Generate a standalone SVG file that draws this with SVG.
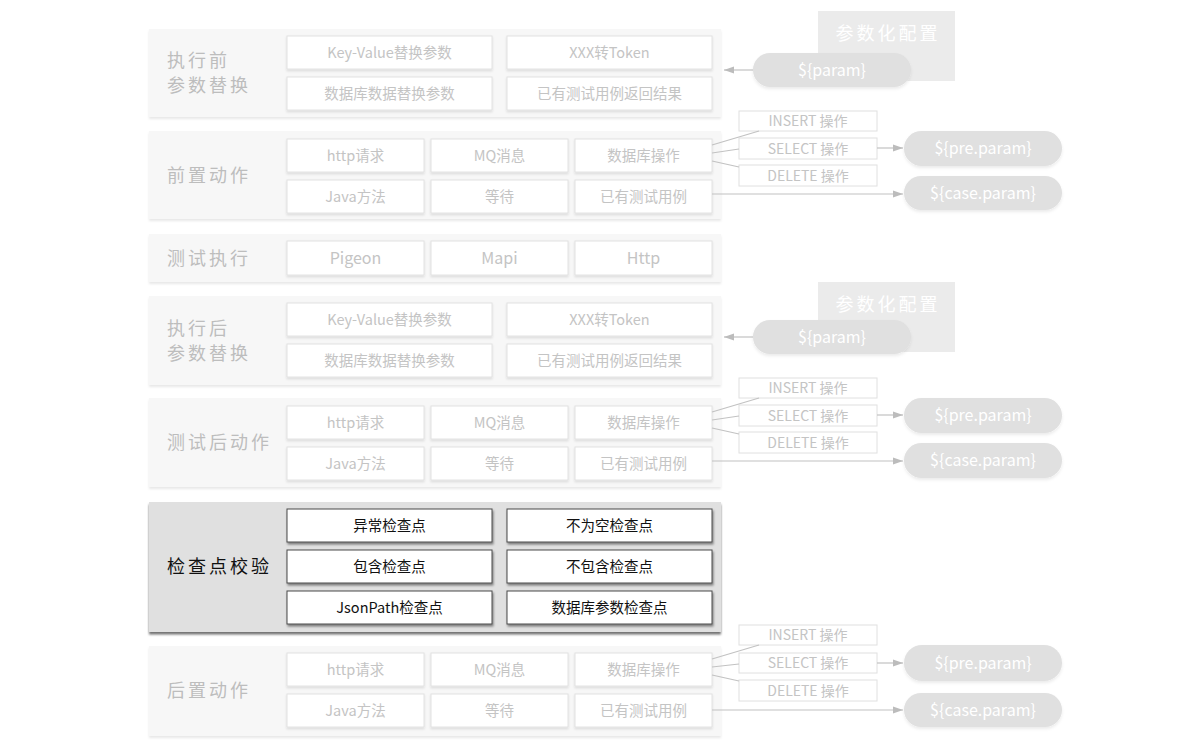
<svg xmlns="http://www.w3.org/2000/svg" width="1200" height="754" viewBox="0 0 1200 754">
<defs>
<filter id="shPanel" x="-5%" y="-10%" width="110%" height="130%"><feDropShadow dx="0" dy="2" stdDeviation="1" flood-color="#000" flood-opacity="0.09"/></filter>
<filter id="shBox" x="-5%" y="-10%" width="110%" height="140%"><feDropShadow dx="0" dy="1.5" stdDeviation="1" flood-color="#000" flood-opacity="0.12"/></filter>
<filter id="shDark" x="-5%" y="-10%" width="110%" height="130%"><feDropShadow dx="0" dy="2.5" stdDeviation="1" flood-color="#000" flood-opacity="0.55"/></filter>
<filter id="shDarkBox" x="-5%" y="-10%" width="110%" height="140%"><feDropShadow dx="1" dy="2" stdDeviation="0.8" flood-color="#000" flood-opacity="0.45"/></filter>
<filter id="shPill" x="-5%" y="-10%" width="110%" height="140%"><feDropShadow dx="0" dy="2" stdDeviation="1.5" flood-color="#000" flood-opacity="0.08"/></filter>
<marker id="arr" viewBox="0 0 10 10" refX="10" refY="5" markerWidth="10" markerHeight="10" markerUnits="userSpaceOnUse" orient="auto"><path d="M0,1.5 L10,5 L0,8.5 Z" fill="#bcbcbc"/></marker>
</defs>
<style>
text{font-family:"Noto Sans CJK SC","Liberation Sans",sans-serif;}
.panel{fill:#f7f7f7;filter:url(#shPanel);}
.box{fill:#fff;stroke:#e2e2e2;stroke-width:1;filter:url(#shBox);}
.bt{font-size:14.5px;fill:#c4c4c4;text-anchor:middle;}
.lbl{font-size:18px;fill:#bdbdbd;letter-spacing:3px;}
.dpanel{fill:#e0e0e0;filter:url(#shDark);}
.dbox{fill:#fff;stroke:#4a4a4a;stroke-width:1;filter:url(#shDarkBox);}
.dbt{font-size:14.5px;fill:#111;text-anchor:middle;}
.dlbl{font-size:18px;fill:#111;letter-spacing:3px;}
.op{fill:#fff;stroke:#e0e0e0;stroke-width:1;}
.opt{font-size:14px;fill:#c4c4c4;text-anchor:middle;}
.cfg{fill:#ebebeb;}
.cfgt{font-size:18px;fill:#fff;letter-spacing:3px;text-anchor:middle;}
.pill{fill:#e0e0e0;filter:url(#shPill);}
.pt{font-size:16px;fill:#fff;text-anchor:middle;}
.ln{stroke:#c2c2c2;stroke-width:1.2;fill:none;}
.ar{stroke:#c2c2c2;stroke-width:1.2;fill:none;marker-end:url(#arr);}
</style>
<rect width="1200" height="754" fill="#fff"/>

<!-- Row 1 -->
<g id="row-pre-replace">
<rect class="panel" x="149" y="29" width="572" height="88"/>
<text class="lbl" x="167" y="67">执行前</text>
<text class="lbl" x="167" y="92">参数替换</text>
</g>
<g id="r1-kv"><rect class="box" x="287" y="36" width="205" height="33"/><text class="bt" x="389.5" y="58">Key-Value替换参数</text></g>
<g id="r1-token"><rect class="box" x="507" y="36" width="205" height="33"/><text class="bt" x="609.5" y="58">XXX转Token</text></g>
<g id="r1-db"><rect class="box" x="287" y="77" width="205" height="33"/><text class="bt" x="389.5" y="99">数据库数据替换参数</text></g>
<g id="r1-case"><rect class="box" x="507" y="77" width="205" height="33"/><text class="bt" x="609.5" y="99">已有测试用例返回结果</text></g>

<!-- Row 2 -->
<g id="row-pre-action">
<rect class="panel" x="149" y="131" width="572" height="88"/>
<text class="lbl" x="167" y="182">前置动作</text>
</g>
<g id="r2-http"><rect class="box" x="287" y="139" width="137" height="33"/><text class="bt" x="355.5" y="161">http请求</text></g>
<g id="r2-mq"><rect class="box" x="431" y="139" width="137" height="33"/><text class="bt" x="499.5" y="161">MQ消息</text></g>
<g id="r2-db"><rect class="box" x="575" y="139" width="137" height="33"/><text class="bt" x="643.5" y="161">数据库操作</text></g>
<g id="r2-java"><rect class="box" x="287" y="180" width="137" height="33"/><text class="bt" x="355.5" y="202">Java方法</text></g>
<g id="r2-wait"><rect class="box" x="431" y="180" width="137" height="33"/><text class="bt" x="499.5" y="202">等待</text></g>
<g id="r2-case"><rect class="box" x="575" y="180" width="137" height="33"/><text class="bt" x="643.5" y="202">已有测试用例</text></g>

<!-- Row 3 -->
<g id="row-exec">
<rect class="panel" x="149" y="234" width="572" height="48"/>
<text class="lbl" x="167" y="265">测试执行</text>
</g>
<g id="r3-pigeon"><rect class="box" x="287" y="241" width="137" height="34"/><text class="bt" x="355.5" y="264" style="font-size:16px">Pigeon</text></g>
<g id="r3-mapi"><rect class="box" x="431" y="241" width="137" height="34"/><text class="bt" x="499.5" y="264" style="font-size:16px">Mapi</text></g>
<g id="r3-http"><rect class="box" x="575" y="241" width="137" height="34"/><text class="bt" x="643.5" y="264" style="font-size:16px">Http</text></g>

<!-- Row 4 -->
<g id="row-post-replace">
<rect class="panel" x="149" y="296" width="572" height="89"/>
<text class="lbl" x="167" y="335">执行后</text>
<text class="lbl" x="167" y="360">参数替换</text>
</g>
<g id="r4-kv"><rect class="box" x="287" y="303" width="205" height="33"/><text class="bt" x="389.5" y="325">Key-Value替换参数</text></g>
<g id="r4-token"><rect class="box" x="507" y="303" width="205" height="33"/><text class="bt" x="609.5" y="325">XXX转Token</text></g>
<g id="r4-db"><rect class="box" x="287" y="344" width="205" height="33"/><text class="bt" x="389.5" y="366">数据库数据替换参数</text></g>
<g id="r4-case"><rect class="box" x="507" y="344" width="205" height="33"/><text class="bt" x="609.5" y="366">已有测试用例返回结果</text></g>

<!-- Row 5 -->
<g id="row-post-test-action">
<rect class="panel" x="149" y="398" width="572" height="89"/>
<text class="lbl" x="167" y="449">测试后动作</text>
</g>
<g id="r5-http"><rect class="box" x="287" y="406" width="137" height="33"/><text class="bt" x="355.5" y="428">http请求</text></g>
<g id="r5-mq"><rect class="box" x="431" y="406" width="137" height="33"/><text class="bt" x="499.5" y="428">MQ消息</text></g>
<g id="r5-db"><rect class="box" x="575" y="406" width="137" height="33"/><text class="bt" x="643.5" y="428">数据库操作</text></g>
<g id="r5-java"><rect class="box" x="287" y="447" width="137" height="33"/><text class="bt" x="355.5" y="469">Java方法</text></g>
<g id="r5-wait"><rect class="box" x="431" y="447" width="137" height="33"/><text class="bt" x="499.5" y="469">等待</text></g>
<g id="r5-case"><rect class="box" x="575" y="447" width="137" height="33"/><text class="bt" x="643.5" y="469">已有测试用例</text></g>

<!-- Row 6 (highlight) -->
<g id="row-check">
<rect class="dpanel" x="149" y="502" width="572" height="130"/>
<text class="dlbl" x="167" y="573">检查点校验</text>
</g>
<g id="r6-exc"><rect class="dbox" x="287" y="509" width="205" height="33"/><text class="dbt" x="389.5" y="531">异常检查点</text></g>
<g id="r6-notnull"><rect class="dbox" x="507" y="509" width="205" height="33"/><text class="dbt" x="609.5" y="531">不为空检查点</text></g>
<g id="r6-contain"><rect class="dbox" x="287" y="550" width="205" height="33"/><text class="dbt" x="389.5" y="572">包含检查点</text></g>
<g id="r6-notcontain"><rect class="dbox" x="507" y="550" width="205" height="33"/><text class="dbt" x="609.5" y="572">不包含检查点</text></g>
<g id="r6-jsonpath"><rect class="dbox" x="287" y="591" width="205" height="33"/><text class="dbt" x="389.5" y="613">JsonPath检查点</text></g>
<g id="r6-dbparam"><rect class="dbox" x="507" y="591" width="205" height="33"/><text class="dbt" x="609.5" y="613">数据库参数检查点</text></g>

<!-- Row 7 -->
<g id="row-post-action">
<rect class="panel" x="149" y="646" width="572" height="90"/>
<text class="lbl" x="167" y="697">后置动作</text>
</g>
<g id="r7-http"><rect class="box" x="287" y="653" width="137" height="33"/><text class="bt" x="355.5" y="675">http请求</text></g>
<g id="r7-mq"><rect class="box" x="431" y="653" width="137" height="33"/><text class="bt" x="499.5" y="675">MQ消息</text></g>
<g id="r7-db"><rect class="box" x="575" y="653" width="137" height="33"/><text class="bt" x="643.5" y="675">数据库操作</text></g>
<g id="r7-java"><rect class="box" x="287" y="694" width="137" height="33"/><text class="bt" x="355.5" y="716">Java方法</text></g>
<g id="r7-wait"><rect class="box" x="431" y="694" width="137" height="33"/><text class="bt" x="499.5" y="716">等待</text></g>
<g id="r7-case"><rect class="box" x="575" y="694" width="137" height="33"/><text class="bt" x="643.5" y="716">已有测试用例</text></g>

<!-- Right side: config blocks -->
<g id="cfg1"><rect class="cfg" x="818" y="11" width="137" height="70"/><text class="cfgt" x="888" y="40">参数化配置</text></g>
<g id="param1"><rect class="pill" x="753" y="53" width="158" height="34" rx="17"/><text class="pt" x="832" y="76">${param}</text></g>
<g id="cfg2"><rect class="cfg" x="818" y="282" width="137" height="70"/><text class="cfgt" x="888" y="311">参数化配置</text></g>
<g id="param2"><rect class="pill" x="753" y="320" width="158" height="34" rx="17"/><text class="pt" x="832" y="343">${param}</text></g>

<!-- ops row 2 -->
<g id="r2-insert"><rect class="op" x="739" y="111" width="138" height="20"/><text class="opt" x="808" y="126">INSERT 操作</text></g>
<g id="r2-select"><rect class="op" x="739" y="138" width="138" height="21"/><text class="opt" x="808" y="153.5">SELECT 操作</text></g>
<g id="r2-delete"><rect class="op" x="739" y="165" width="138" height="21"/><text class="opt" x="808" y="180.5">DELETE 操作</text></g>
<g id="r2-pre"><rect class="pill" x="904" y="131" width="158" height="35" rx="17.5"/><text class="pt" x="983" y="154">${pre.param}</text></g>
<g id="r2-casep"><rect class="pill" x="904" y="176" width="158" height="34" rx="17"/><text class="pt" x="983" y="199">${case.param}</text></g>

<!-- ops row 5 -->
<g id="r5-insert"><rect class="op" x="739" y="378" width="138" height="20"/><text class="opt" x="808" y="393">INSERT 操作</text></g>
<g id="r5-select"><rect class="op" x="739" y="405" width="138" height="21"/><text class="opt" x="808" y="420.5">SELECT 操作</text></g>
<g id="r5-delete"><rect class="op" x="739" y="432" width="138" height="21"/><text class="opt" x="808" y="447.5">DELETE 操作</text></g>
<g id="r5-pre"><rect class="pill" x="904" y="398" width="158" height="35" rx="17.5"/><text class="pt" x="983" y="421">${pre.param}</text></g>
<g id="r5-casep"><rect class="pill" x="904" y="443" width="158" height="35" rx="17.5"/><text class="pt" x="983" y="466">${case.param}</text></g>

<!-- ops row 7 -->
<g id="r7-insert"><rect class="op" x="739" y="625" width="138" height="20"/><text class="opt" x="808" y="640">INSERT 操作</text></g>
<g id="r7-select"><rect class="op" x="739" y="653" width="138" height="20"/><text class="opt" x="808" y="668">SELECT 操作</text></g>
<g id="r7-delete"><rect class="op" x="739" y="680" width="138" height="21"/><text class="opt" x="808" y="695.5">DELETE 操作</text></g>
<g id="r7-pre"><rect class="pill" x="904" y="645" width="158" height="36" rx="18"/><text class="pt" x="983" y="669">${pre.param}</text></g>
<g id="r7-casep"><rect class="pill" x="904" y="693" width="158" height="34" rx="17"/><text class="pt" x="983" y="716">${case.param}</text></g>

<!-- connectors -->
<g id="connectors">
<path class="ar" d="M753,70 L724,70"/>
<path class="ar" d="M753,337 L724,337"/>

<path class="ln" d="M712,145 L759,131"/>
<path class="ln" d="M712,153 L739,149"/>
<path class="ln" d="M712,161 L739,167"/>
<path class="ar" d="M877,148 L903,148"/>
<path class="ar" d="M712,194 L903,194"/>

<path class="ln" d="M712,412 L759,398"/>
<path class="ln" d="M712,420 L739,416"/>
<path class="ln" d="M712,428 L739,434"/>
<path class="ar" d="M877,415 L903,415"/>
<path class="ar" d="M712,461 L903,461"/>

<path class="ln" d="M712,659 L759,645"/>
<path class="ln" d="M712,667 L739,664"/>
<path class="ln" d="M712,675 L739,681"/>
<path class="ar" d="M877,663 L903,663"/>
<path class="ar" d="M712,710 L903,710"/>
</g>
</svg>
